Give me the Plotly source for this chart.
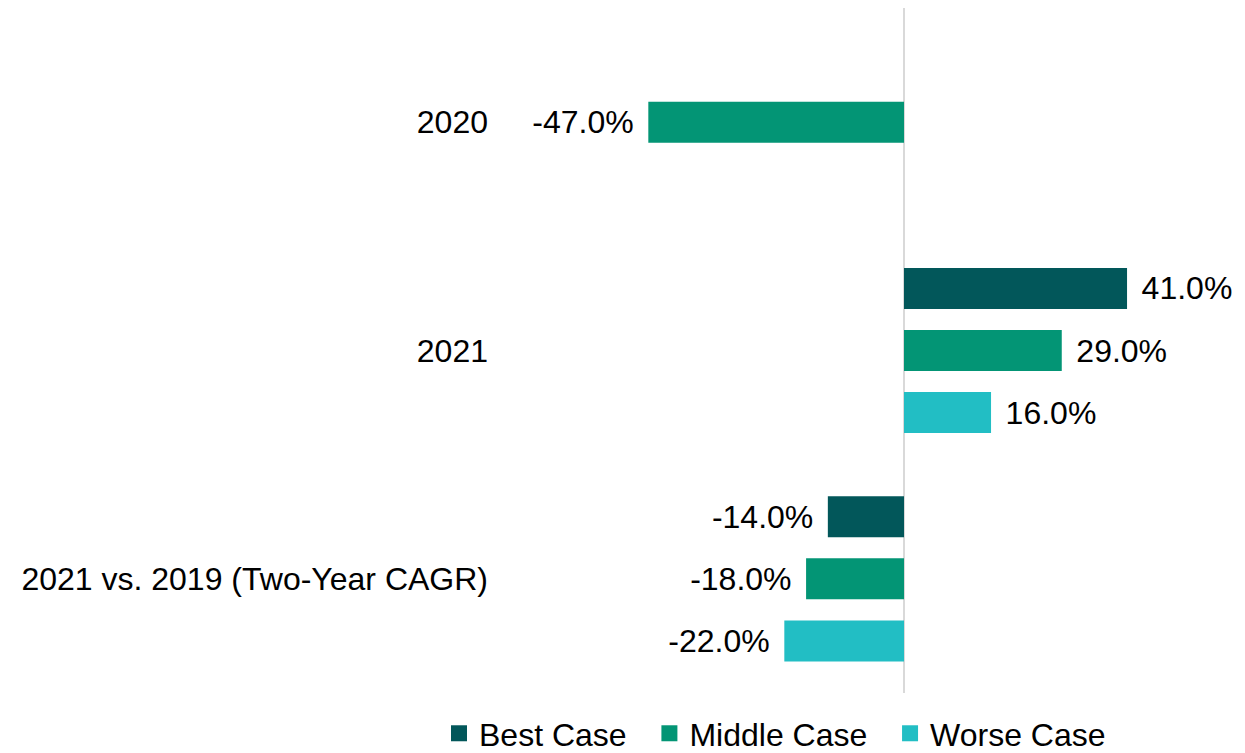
import plotly.graph_objects as go

categories = ["2020", "2021", "2021 vs. 2019 (Two-Year CAGR)"]
series_names = ["Best Case", "Middle Case", "Worse Case"]
best = [None, 41.0, -14.0]
middle = [-47.0, 29.0, -18.0]
worse = [None, 16.0, -22.0]
colors = ["#02575A", "#039575", "#22BEC4"]

FONT = "Liberation Sans, Arial"
FS = 32
PAD = "\u00a0\u200a"


def labels(vals):
    out = []
    for v in vals:
        if v is None:
            out.append("")
        elif v >= 0:
            out.append(PAD + f"{v:.1f}%")
        else:
            out.append(f"{v:.1f}%" + PAD)
    return out


fig = go.Figure()
for name, vals, col in zip(series_names, [best, middle, worse], colors):
    fig.add_trace(go.Bar(
        y=categories, x=vals, name=name, orientation="h",
        marker=dict(color=col, line=dict(width=0)),
        text=labels(vals), textposition="outside",
        textfont=dict(family=FONT, size=FS, color="#000000"),
        cliponaxis=False, hoverinfo="skip",
        legendgroup=name, showlegend=False,
    ))
# legend entries (square swatches)
for i, (name, col) in enumerate(zip(series_names, colors)):
    label = name if i == len(series_names) - 1 else name + "\u00a0\u00a0"
    fig.add_trace(go.Scatter(
        x=[None], y=[None], mode="markers", name=label,
        marker=dict(symbol="square", size=16, color=col),
        legendgroup=name, showlegend=True, hoverinfo="skip",
    ))

# page has an 8px body margin, so figure coordinates are page - 8
OFF = 8
W, H = 1245 - OFF, 753 - OFF
L, R = 489 - OFF, 1235 - OFF
T, B = 8 - OFF, 693.5 - OFF
px_per = 5.44
zero_px = 904 - OFF
xmin = (L - zero_px) / px_per
xmax = (R - zero_px) / px_per
plot_w = R - L
plot_h = B - T
leg_cx = 775 - OFF
leg_cy = 734 - OFF

fig.update_layout(
    width=W, height=H,
    margin=dict(l=L, r=W - R, t=T, b=H - B, autoexpand=False),
    paper_bgcolor="white", plot_bgcolor="white",
    barmode="group", bargap=0.184, bargroupgap=0.34,
    font=dict(family=FONT, size=FS, color="#000000"),
    xaxis=dict(range=[xmin, xmax], showgrid=False, showticklabels=False,
               zeroline=True, zerolinecolor="#D9D9D9", zerolinewidth=2,
               showline=False, ticks=""),
    yaxis=dict(type="category", categoryorder="array", categoryarray=categories,
               autorange="reversed", showgrid=False, ticks="",
               showline=False, zeroline=False,
               tickfont=dict(family=FONT, size=FS, color="#000000")),
    legend=dict(orientation="h", x=(leg_cx - L) / plot_w, xanchor="center",
                y=-(leg_cy - B) / plot_h, yanchor="middle",
                traceorder="normal",
                font=dict(family=FONT, size=FS, color="#000000"),
                itemwidth=30),
    showlegend=True,
)

fig.write_html("out.html")
